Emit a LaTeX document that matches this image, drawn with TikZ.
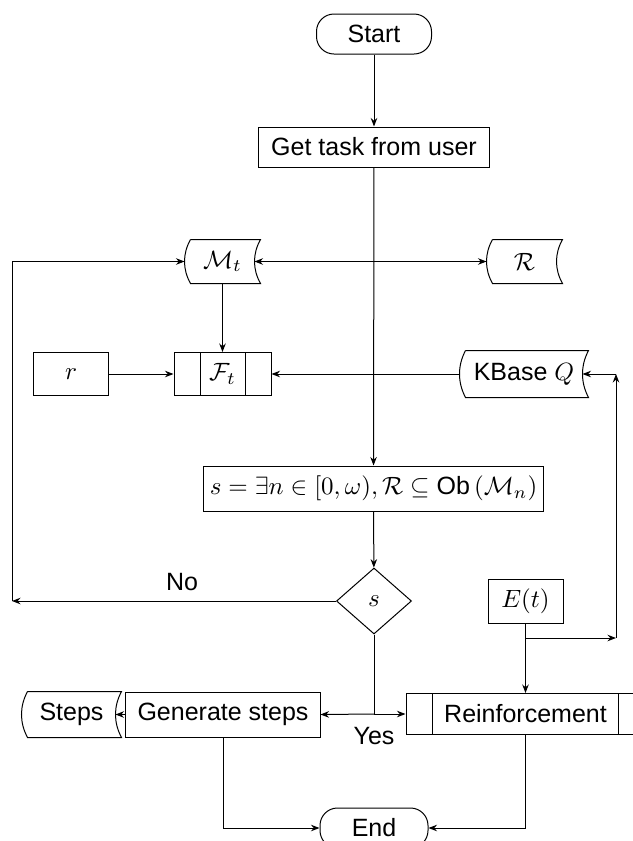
\documentclass[tikz,border=0pt]{standalone}
\usepackage{fontspec}
\setmainfont{Liberation Sans}
\usetikzlibrary{arrows.meta,shapes.geometric,calc}
% #1 node name, #2 one third of the node height
\newcommand\stordraw[2]{%
  \draw ([xshift=2.4pt]#1.north west) -- (#1.north east)
    .. controls ([xshift=-3.2pt,yshift=-#2]#1.north east)
    and ([xshift=-3.2pt,yshift=#2]#1.south east) .. (#1.south east)
    -- ([xshift=2.4pt]#1.south west)
    .. controls ([xshift=-0.8pt,yshift=#2]#1.south west)
    and ([xshift=-0.8pt,yshift=-#2]#1.north west) .. ([xshift=2.4pt]#1.north west);}
\newcommand\splitdraw[2]{%
  \draw ([xshift=#2]#1.north west) -- ([xshift=#2]#1.south west);
  \draw ([xshift=-#2]#1.north east) -- ([xshift=-#2]#1.south east);}
\begin{document}
\begin{tikzpicture}[x=0.4pt,y=-0.4pt,
  font=\fontsize{10}{12}\selectfont,
  >={Stealth[length=3.4pt,width=2.6pt]},
  every node/.style={inner sep=0pt},
  boxnode/.style={draw, rectangle},
  termnode/.style={draw, rectangle, rounded corners=7pt},
  stornode/.style={rectangle},
  decnode/.style={draw, diamond, aspect=1.14},
  lbl/.style={}]
\useasboundingbox (0,0) rectangle (633,841);

\node[termnode, minimum width=46pt, minimum height=16pt] (start) at (374,34) {Start};
\node[boxnode, minimum width=92.4pt, minimum height=16pt] (task) at (374,147) {Get task from user};
\node[stornode, minimum width=30pt, minimum height=17.2pt] (Mt) at (222.5,261.5) {$\mathcal{M}_t$};
\node[stornode, minimum width=30pt, minimum height=17.2pt] (R) at (524.5,261.5) {$\mathcal{R}$};
\node[boxnode, minimum width=29.6pt, minimum height=17.2pt] (r) at (71,374) {$r$};
\node[boxnode, minimum width=38.8pt, minimum height=17.2pt] (Ft) at (222.5,374) {$\mathcal{F}_t$};
\node[stornode, minimum width=51.2pt, minimum height=18.4pt] (K) at (524,374) {KBase $Q$};
\node[boxnode, minimum width=135.6pt, minimum height=18pt] (sbox) at (373.5,488.5)
  {$s = \exists n \in [0,\omega), \mathcal{R} \subseteq \mbox{Ob}\,(\mathcal{M}_n)$};
\node[decnode, minimum width=30pt, minimum height=26.4pt] (dec) at (374,601) {$s$};
\node[boxnode, minimum width=30pt, minimum height=17.6pt] (Et) at (525.5,601) {$E(t)$};
\node[stornode, minimum width=39.6pt, minimum height=18pt] (Steps) at (71.5,714.5) {Steps};
\node[boxnode, minimum width=77.6pt, minimum height=18pt] (Gen) at (223,714.5) {Generate steps};
\node[boxnode, minimum width=95.6pt, minimum height=16.4pt] (Reinf) at (525.5,714) {Reinforcement};
\node[termnode, minimum width=43.2pt, minimum height=16pt] (End) at (374,828) {End};

\node[lbl] (nolbl) at (182,582) {No};
\node[lbl] (yeslbl) at (374,736) {Yes};

\stordraw{Mt}{5.7pt}
\stordraw{R}{5.7pt}
\stordraw{K}{6.1pt}
\stordraw{Steps}{6pt}
\splitdraw{Ft}{10.6pt}
\splitdraw{Reinf}{10.8pt}

\coordinate (noend) at (12,601);
\coordinate (yes) at (374,714);
\coordinate (br) at (525.5,638);
\coordinate (bright) at (616,638);
\coordinate (kcorner) at (616,374);

\draw[->] (start) -- (task);
\draw[->] (task) -- (sbox);
\draw[->] (Mt) -- (Ft);
\draw[<->] ([xshift=-2.4pt]Mt.east) -- (R.west);
\draw[->] (r) -- (Ft);
\draw[->] (K) -- (Ft);
\draw[->] (sbox) -- (dec);
\draw[->] (dec.west) -- (noend);
\draw[->] (noend) |- (Mt.west);
\draw (dec.south) -- (yes);
\draw[->] (yes) -- (Gen.east);
\draw[->] (yes) -- (Reinf.west);
\draw[->] (Et) -- (Reinf);
\draw[->] (br) -- (bright);
\draw[->] (bright) -- (kcorner);
\draw[->] (kcorner) -- ([xshift=-2.4pt]K.east);
\draw[->] (Gen.west) -- ([xshift=-2.4pt]Steps.east);
\draw[->] (Gen.south) |- (End.west);
\draw[->] (Reinf.south) |- (End.east);
\end{tikzpicture}
\end{document}
